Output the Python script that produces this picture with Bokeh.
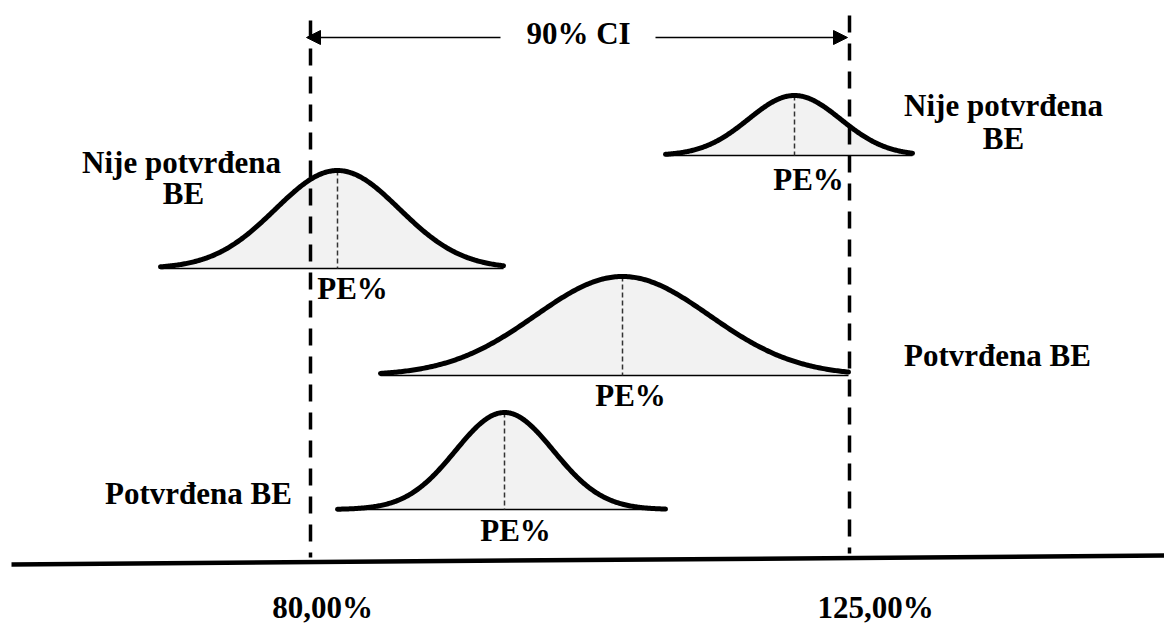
import numpy as np
from bokeh.plotting import figure
from bokeh.models import Range1d, Arrow, NormalHead
from bokeh.core.properties import value
from bokeh.embed import file_html
from bokeh.resources import INLINE

# ---- diagram data (layout units = pixels of the 1164x625 picture) ----
limit_labels = ["80,00%", "125,00%"]
limit_x = [310, 849]
limit_label_x = [322, 875]
limit_top = [20, 15]
limit_bottom = [557, 553]

curve_center = [337, 794, 622, 504]
curve_base = [268, 155, 375, 509]
curve_height = [98, 60, 99, 97]
curve_sigma = [62, 46, 87, 49]
curve_left = [160, 665, 380, 337]
curve_right = [503, 912, 848, 665]

pe_label = ["PE%", "PE%", "PE%", "PE%"]
pe_x = [352, 808, 630, 515]
pe_y = [288, 179, 395, 530]

verdict_text = ["Nije potvrđena", "BE", "Nije potvrđena", "BE", "Potvrđena BE", "Potvrđena BE"]
verdict_x = [181, 183, 1003, 1003, 997, 198]
verdict_y = [162, 193, 105, 138, 355, 493]

ci_label = "90% CI"
ci_x = 578
ci_y = 33
ci_arrow_y = 37
ci_arrow_left = [500, 306]
ci_arrow_right = [655, 847]

axis_line_x = [11, 1164]
axis_line_y = [564, 555]
limit_label_y = 607

FONT = value("Liberation Serif, Times New Roman, DejaVu Serif, serif")

p = figure(width=1164, height=625, x_range=Range1d(0, 1164), y_range=Range1d(625, 0),
           output_backend="svg", toolbar_location=None, min_border=0,
           x_axis_type=None, y_axis_type=None, outline_line_color=None)
p.grid.visible = False
p.background_fill_color = "white"

# bell curves
for c, b, h, s, l, r in zip(curve_center, curve_base, curve_height, curve_sigma, curve_left, curve_right):
    xs = np.linspace(l, r, 300)
    ys = b - h * np.exp(-((xs - c) ** 2) / (2 * s ** 2))
    p.varea(x=xs, y1=ys, y2=np.full_like(xs, b), fill_color="#f2f2f2")
    p.line(x=[l, r], y=[b, b], line_color="black", line_width=1.5)
    p.line(x=[c, c], y=[b - h, b], line_color="#333333", line_width=1.5, line_dash="5 3")
    p.line(x=xs, y=ys, line_color="black", line_width=5, line_join="round", line_cap="round")

# limits (dashed verticals)
for x, t, bt in zip(limit_x, limit_top, limit_bottom):
    p.line(x=[x, x], y=[t, bt], line_color="black", line_width=3.5, line_dash="17 11")

# horizontal axis line
p.line(x=axis_line_x, y=axis_line_y, line_color="black", line_width=4.5)

# CI arrows
for xs in (ci_arrow_left, ci_arrow_right):
    p.add_layout(Arrow(end=NormalHead(size=14, fill_color="black", line_color="black"),
                       x_start=xs[0], y_start=ci_arrow_y, x_end=xs[1], y_end=ci_arrow_y,
                       line_color="black", line_width=1.5))

txt = dict(text_font=FONT, text_font_style="bold", text_font_size="31px",
           text_color="black", text_align="center", text_baseline="alphabetic")

p.text(x=[ci_x], y=[ci_y], text=[ci_label], **txt)
p.text(x=pe_x, y=pe_y, text=pe_label, **txt)
p.text(x=verdict_x, y=verdict_y, text=verdict_text, **txt)
p.text(x=limit_label_x, y=[limit_label_y] * 2, text=limit_labels, **txt)

open("out.html", "w").write(file_html(p, INLINE))
